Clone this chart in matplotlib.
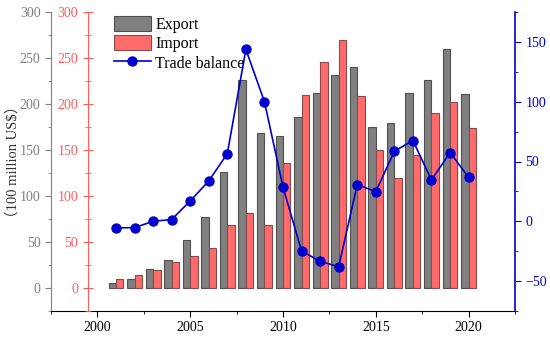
"""
Export / import bars with trade balance line, three y axes
"""
import matplotlib.pyplot as plt
import numpy as np
from matplotlib.ticker import MultipleLocator

# ==================== data ====================
YEARS = np.arange(2001, 2021)
EXPORT = [5, 9.5, 20.5, 30, 52, 77, 126.5, 226, 168, 165,
          186, 212.5, 232, 240, 175, 179, 212.5, 226, 260, 211]
IMPORT = [10, 14, 20, 28, 34.5, 43, 69, 82, 68.5, 135.5,
          210, 246, 270, 209, 150, 120, 145, 190.5, 202.5, 174]
BALANCE = [-5.5, -5.3, 0, 1.5, 17, 33.7, 56.6, 143.7, 100, 28.7,
           -24.8, -33.5, -38, 30.7, 24.8, 58.6, 67.5, 34.6, 57.5, 36.8]
XTICKS = [2000, 2005, 2010, 2015, 2020]
# ==============================================

GRAY = "#808080"
RED = "#ff5c5c"
BLUE = "#0000cc"

plt.rcParams["font.family"] = ["Liberation Serif", "Noto Sans CJK SC", "DejaVu Serif"]

fig = plt.figure(figsize=(5.5, 3.37), dpi=100)
ax = fig.add_axes([51 / 550, 1 - 311 / 337, 464 / 550, 299 / 337])

w = 0.4
ax.bar(YEARS - w / 2, EXPORT, width=w, color=GRAY, edgecolor="#505050",
       linewidth=0.8, label="Export")
ax.bar(YEARS + w / 2, IMPORT, width=w, color="#ff6b6b", edgecolor="#8a4a4a",
       linewidth=0.8, label="Import")

ax.set_xlim(1997.5, 2022.5)
ax.set_ylim(-25, 300)
ax.set_xticks(XTICKS)
ax.xaxis.set_minor_locator(MultipleLocator(2.5))
ax.set_yticks([0, 50, 100, 150, 200, 250, 300])
ax.yaxis.set_minor_locator(MultipleLocator(25))
ax.tick_params(axis="x", which="major", direction="out", length=4, labelsize=10)
ax.tick_params(axis="x", which="minor", direction="out", length=2.5)
ax.tick_params(axis="y", which="both", colors=GRAY, labelcolor=GRAY, labelsize=10)
ax.tick_params(axis="y", which="major", length=4)
ax.tick_params(axis="y", which="minor", length=2.5)
ax.spines["top"].set_visible(False)
ax.spines["right"].set_visible(False)
ax.spines["left"].set_color(GRAY)
ax.set_ylabel("（100 million US$）", fontsize=10.5, color="#333333")
ax.yaxis.set_label_coords(-0.067, 0.5)

# red offset axis (same scale)
ax_r = ax.twinx()
ax_r.set_ylim(ax.get_ylim())
ax_r.spines["left"].set_position(("axes", 37 / 464))
ax_r.spines["left"].set_visible(True)
ax_r.spines["left"].set_color(RED)
ax_r.spines["right"].set_visible(False)
ax_r.spines["top"].set_visible(False)
ax_r.spines["bottom"].set_visible(False)
ax_r.yaxis.set_ticks_position("left")
ax_r.yaxis.set_label_position("left")
ax_r.set_yticks([0, 50, 100, 150, 200, 250, 300])
ax_r.yaxis.set_minor_locator(MultipleLocator(25))
ax_r.tick_params(axis="y", which="both", colors=RED, labelcolor=RED,
                 direction="inout", labelsize=10)
ax_r.tick_params(axis="y", which="major", length=7)
ax_r.tick_params(axis="y", which="minor", length=4)

# trade balance on right axis
ax_b = ax.twinx()
ax_b.plot(YEARS, BALANCE, "-o", color=BLUE, linewidth=1.2, markersize=6.5,
          label="Trade balance")
ax_b.set_ylim(-75, 175)
ax_b.set_yticks([-50, 0, 50, 100, 150])
ax_b.yaxis.set_minor_locator(MultipleLocator(25))
ax_b.spines["right"].set_color(BLUE)
ax_b.spines["right"].set_linewidth(1.2)
ax_b.spines["top"].set_visible(False)
ax_b.spines["left"].set_visible(False)
ax_b.spines["bottom"].set_visible(False)
ax_b.tick_params(axis="y", which="both", colors=BLUE, labelcolor=BLUE, labelsize=10)
ax_b.tick_params(axis="y", which="major", length=4)
ax_b.tick_params(axis="y", which="minor", length=2.5)

h1, l1 = ax.get_legend_handles_labels()
h2, l2 = ax_b.get_legend_handles_labels()
ax_b.legend(h1 + h2, l1 + l2, loc="upper left", bbox_to_anchor=(0.115, 1.02),
            frameon=False, fontsize=11.5, handlelength=2.3, handleheight=1.1,
            handletextpad=0.3, labelspacing=0.15, borderaxespad=0.2)

fig.savefig("out.png", dpi=100)
